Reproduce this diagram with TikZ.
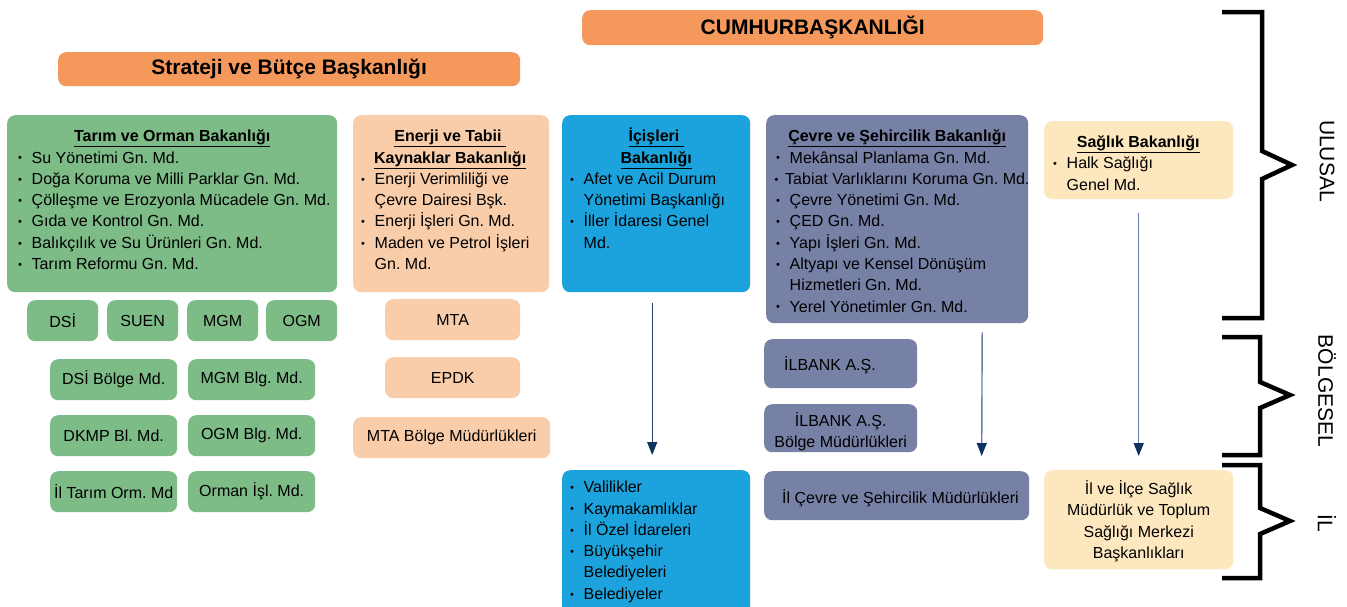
\documentclass[tikz,border=0pt]{standalone}
\usepackage{fontspec}
\setmainfont{Liberation Sans}
\usetikzlibrary{arrows.meta,calc}
\definecolor{orng}{HTML}{F4995B}
\definecolor{grn}{HTML}{7DBB87}
\definecolor{pch}{HTML}{F9CDA9}
\definecolor{blu}{HTML}{1CA2DC}
\definecolor{slt}{HTML}{7780A5}
\definecolor{ylw}{HTML}{FDE7BF}
\definecolor{navy}{HTML}{0E3360}
\definecolor{steel}{HTML}{6480A8}
\definecolor{darkln}{HTML}{22426F}
\newcommand\bi{\makebox[13.5pt][l]{\raisebox{1.2pt}{\fontsize{11}{11}\selectfont •}}}
\newcommand\ind{\hspace*{13.5pt}}
\newcommand\ttl[2]{\makebox[#1][c]{\bfseries\underline{#2}}}
\frenchspacing
\begin{document}
\begin{tikzpicture}[x=1pt,y=-1pt,
  box/.style={rounded corners=8pt, inner sep=0pt, anchor=north west, font=\fontsize{16}{19}\selectfont\frenchspacing},
  txt/.style={inner sep=0pt, anchor=base west, font=\fontsize{16}{21.3}\selectfont\frenchspacing},
  hdr/.style={box, font=\fontsize{21}{24}\selectfont\bfseries},
  lbl/.style={inner sep=0pt, font=\fontsize{21}{24}\selectfont, rotate=-90},
  brc/.style={line width=4.5pt, line join=miter},
  arr/.style={draw=steel, line width=1.4pt, -{Triangle[length=13pt,width=10pt,color=navy]}}
]
\clip (0,0) rectangle (1347,606);
\fill[white] (0,0) rectangle (1347,606);

% headers
\node[hdr, fill=orng, minimum width=461pt, minimum height=35pt] (cumh) at (582,10) {CUMHURBAŞKANLIĞI};
\node[hdr, fill=orng, minimum width=462pt, minimum height=34pt] (strat) at (58,52) {Strateji ve Bütçe Başkanlığı};

% ministries
\node[box, fill=grn, minimum width=330pt, minimum height=177pt] (tarim) at (7,115) {};
\node[txt] (tarimT) at (18,141.7) {\parbox[t]{400pt}{\raggedright\ttl{308pt}{Tarım ve Orman Bakanlığı}\\
\bi Su Yönetimi Gn. Md.\\
\bi Doğa Koruma ve Milli Parklar Gn. Md.\\
\bi Çölleşme ve Erozyonla Mücadele Gn. Md.\\
\bi Gıda ve Kontrol Gn. Md.\\
\bi Balıkçılık ve Su Ürünleri Gn. Md.\\
\bi Tarım Reformu Gn. Md.}};

\node[box, fill=pch, minimum width=196pt, minimum height=177pt] (enerji) at (353,115) {};
\node[txt] (enerjiT) at (361,141.7) {\parbox[t]{300pt}{\raggedright\ttl{178pt}{Enerji ve Tabii\ }\\
\ttl{178pt}{Kaynaklar Bakanlığı}\\
\bi Enerji Verimliliği ve\\
\ind Çevre Dairesi Bşk.\\
\bi Enerji İşleri Gn. Md.\\
\bi Maden ve Petrol İşleri\\
\ind Gn. Md.}};

\node[box, fill=blu, minimum width=188pt, minimum height=177pt] (icis) at (562,115) {};
\node[txt] (icisT) at (570,141.7) {\parbox[t]{300pt}{\raggedright\ttl{172pt}{İçişleri\ }\\
\ttl{172pt}{Bakanlığı}\\
\bi Afet ve Acil Durum\\
\ind Yönetimi Başkanlığı\\
\bi İller İdaresi Genel\\
\ind Md.}};

\node[box, fill=slt, minimum width=262pt, minimum height=208pt] (cevre) at (766,115) {};
\node[txt] (cevreT) at (776,141.7) {\parbox[t]{350pt}{\raggedright\ttl{242pt}{Çevre ve Şehircilik Bakanlığı}\\
\bi Mekânsal Planlama Gn. Md.\\
\hspace*{-1.5pt}\makebox[10.5pt][l]{\raisebox{1.2pt}{\fontsize{11}{11}\selectfont •}}Tabiat Varlıklarını Koruma Gn. Md.\\
\bi Çevre Yönetimi Gn. Md.\\
\bi ÇED Gn. Md.\\
\bi Yapı İşleri Gn. Md.\\
\bi Altyapı ve Kensel Dönüşüm\\
\ind Hizmetleri Gn. Md.\\
\bi Yerel Yönetimler Gn. Md.}};

\node[box, fill=ylw, minimum width=189pt, minimum height=78pt] (saglik) at (1044,121) {};
\node[txt] (saglikT) at (1053,147.5) {\parbox[t]{300pt}{\raggedright\ttl{170pt}{Sağlık Bakanlığı}\\
\bi Halk Sağlığı\\
\ind Genel Md.}};

% green small boxes
\node[box, fill=grn, minimum width=71pt, minimum height=41pt] (dsi) at (27,300) {DSİ};
\node[box, fill=grn, minimum width=71pt, minimum height=41pt] (suen) at (107,300) {SUEN};
\node[box, fill=grn, minimum width=71pt, minimum height=41pt] (mgm) at (187,300) {MGM};
\node[box, fill=grn, minimum width=71pt, minimum height=41pt] (ogm) at (266,300) {OGM};
\node[box, fill=grn, minimum width=127pt, minimum height=41pt] (dsib) at (50,359) {DSİ Bölge Md.};
\node[box, fill=grn, minimum width=127pt, minimum height=41pt] (mgmb) at (188,359) {MGM Blg. Md.};
\node[box, fill=grn, minimum width=127pt, minimum height=41pt] (dkmp) at (50,415) {DKMP Bl. Md.};
\node[box, fill=grn, minimum width=127pt, minimum height=41pt] (ogmb) at (188,415) {OGM Blg. Md.};
\node[box, fill=grn, minimum width=127pt, minimum height=41pt] (iltarim) at (50,471) {İl Tarım Orm. Md};
\node[box, fill=grn, minimum width=127pt, minimum height=41pt] (ormanisl) at (188,471) {Orman İşl. Md.};

% peach small boxes
\node[box, fill=pch, minimum width=135pt, minimum height=41pt] (mta) at (385,299) {MTA};
\node[box, fill=pch, minimum width=135pt, minimum height=41pt] (epdk) at (385,357) {EPDK};
\node[box, fill=pch, minimum width=197pt, minimum height=41pt] (mtab) at (353,417) {MTA Bölge Müdürlükleri};

% lower boxes
\node[box, fill=blu, minimum width=188pt, minimum height=150pt] (icisL) at (562,470) {};
\node[txt] (icisLT) at (570,492.7) {\parbox[t]{300pt}{\raggedright
\bi Valilikler\\
\bi Kaymakamlıklar\\
\bi İl Özel İdareleri\\
\bi Büyükşehir\\
\ind Belediyeleri\\
\bi Belediyeler}};

\node[box, fill=slt, minimum width=153pt, minimum height=49pt] (ilbank) at (764,339) {};
\node[txt] (ilbankT) at (784,370.5) {İLBANK A.Ş.};
\node[box, fill=slt, minimum width=153pt, minimum height=48pt] (ilbankb) at (764,404) {};
\node[txt] (ilbankbT) at (764,426) {\parbox[t]{153pt}{\centering İLBANK A.Ş.\\Bölge Müdürlükleri}};
\node[box, fill=slt, minimum width=265pt, minimum height=49pt] (ilcevre) at (764,471) {};
\node[txt] (ilcevreT) at (782,503) {İl Çevre ve Şehircilik Müdürlükleri};

\node[box, fill=ylw, minimum width=189pt, minimum height=99pt] (saglikL) at (1044,470) {};
\node[txt] (saglikLT) at (1044,494.5) {\parbox[t]{189pt}{\centering İl ve İlçe Sağlık\\Müdürlük ve Toplum\\Sağlığı Merkezi\\Başkanlıkları}};

% arrows
\draw[arr, draw=darkln] ([xshift=-4pt,yshift=-11pt]icis.south) -- ([xshift=-4pt,yshift=15pt]icisL.north);
\draw[arr] ([xshift=85pt,yshift=-9pt]cevre.south) -- ([xshift=85pt,yshift=15pt]ilcevre.north);
\draw[arr] ([yshift=-14pt]saglik.south) -- ([yshift=14pt]saglikL.north);

% braces
\draw[brc] (1222,12) -- (1262,12) -- (1262,151) -- (1292,165) -- (1262,179) -- (1262,318) -- (1222,318);
\draw[brc] (1222,337) -- (1260,337) -- (1260,382) -- (1290,395) -- (1260,408) -- (1260,455) -- (1222,455);
\draw[brc] (1222,465) -- (1260,465) -- (1260,508) -- (1290,521) -- (1260,534) -- (1260,578) -- (1222,578);
\node[lbl] (ulusal) at (1327,161) {ULUSAL};
\node[lbl] (bolgesel) at (1327,391) {BÖLGESEL};
\node[lbl] (il) at (1327,523) {İL};
\end{tikzpicture}
\end{document}
